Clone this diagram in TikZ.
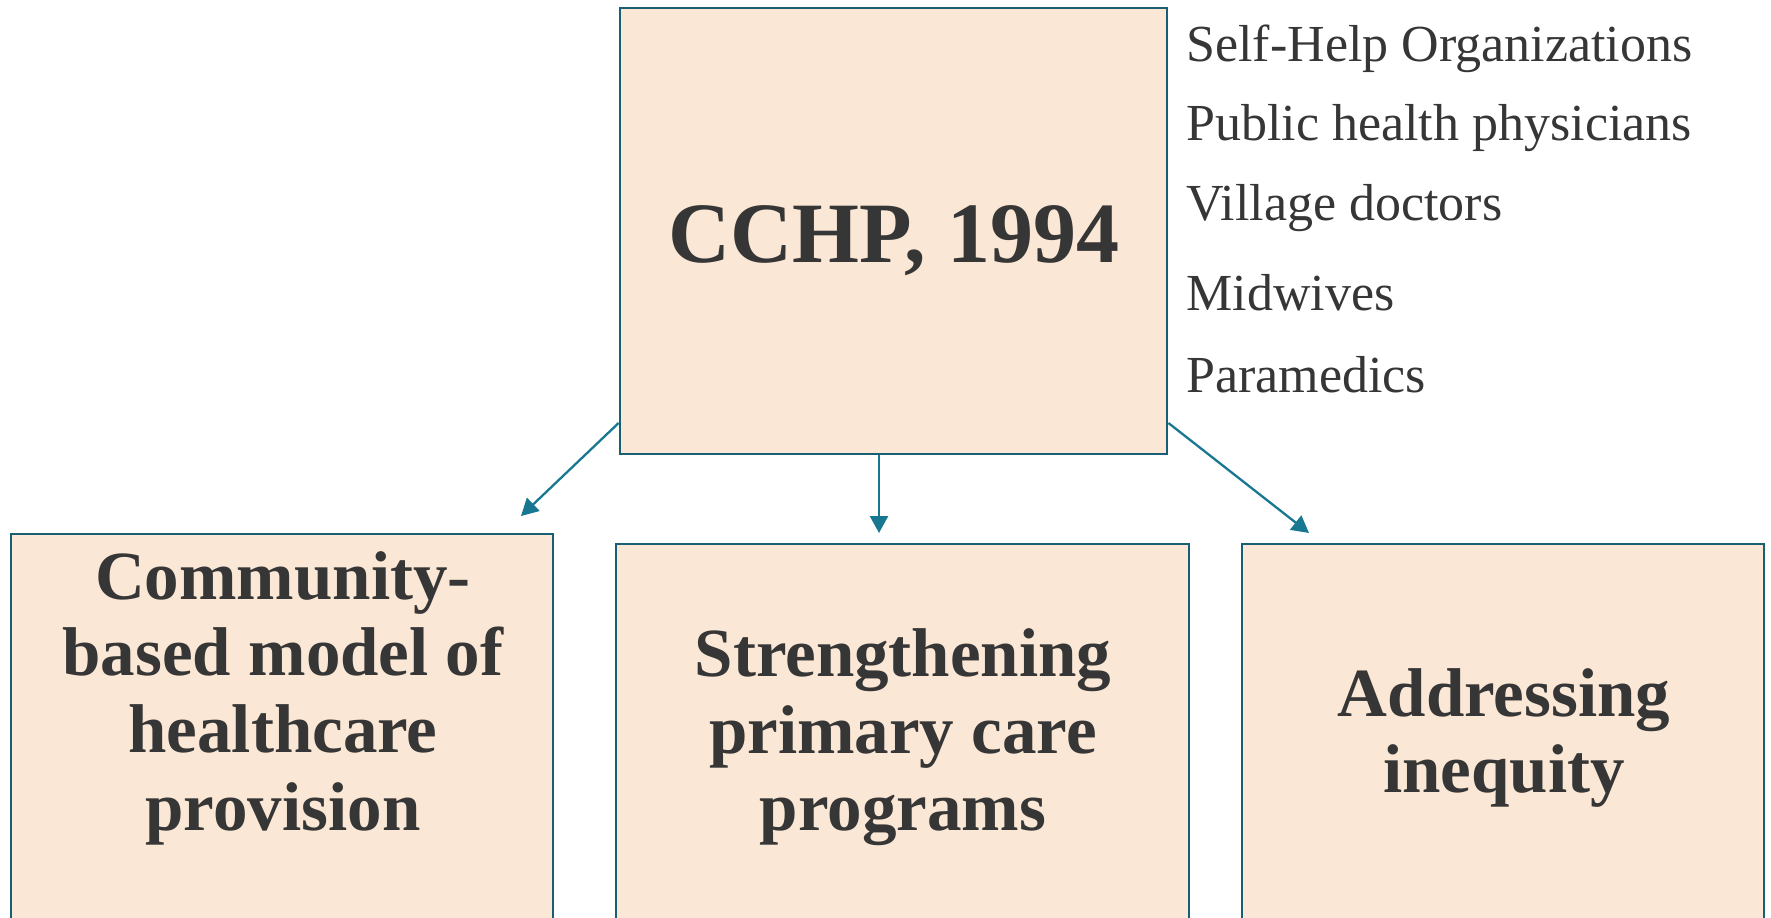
\documentclass[tikz,border=0pt]{standalone}
\usepackage{fontspec}
\setmainfont{Liberation Serif}
\usetikzlibrary{arrows.meta}

\definecolor{boxfill}{HTML}{FAE7D5}
\definecolor{boxline}{HTML}{185F74}
\definecolor{arrowcol}{HTML}{187892}
\definecolor{ink}{HTML}{363636}

\tikzset{
  panel/.style={draw=boxline, fill=boxfill, line width=1.4pt, inner sep=0pt},
  heading/.style={text=ink, font=\bfseries\fontsize{43}{50}\selectfont, anchor=base},
  boxtext/.style={text=ink, font=\bfseries\fontsize{34.5}{40}\selectfont, anchor=base},
  listitem/.style={text=ink, font=\fontsize{26}{30}\selectfont, anchor=base west, inner sep=0pt},
  link/.style={draw=arrowcol, line width=1.15pt, -{Triangle[length=8.5pt, width=9pt]}}
}

\begin{document}
\begin{tikzpicture}[x=0.5pt, y=-0.5pt]
  \useasboundingbox (0,0) rectangle (1771,917);

  % central programme box and its three outcome boxes (lower ones run off the page)
  \node[panel, minimum width=273.5pt, minimum height=223pt] (cchp) at (893.5,231) {};
  \node[panel, minimum width=271pt, minimum height=206pt] (community) at (282,740) {};
  \node[panel, minimum width=286.5pt, minimum height=201pt] (primary) at (902.5,745) {};
  \node[panel, minimum width=261pt, minimum height=201pt] (inequity) at (1503,745) {};

  % box titles
  \node[heading] (cchpt) at (894,262) {CCHP, 1994};

  \node[boxtext] (c1) at (283,599) {Community-};
  \node[boxtext] (c2) at (283,675) {based model of};
  \node[boxtext] (c3) at (283,752) {healthcare};
  \node[boxtext] (c4) at (283,830) {provision};

  \node[boxtext] (p1) at (903,676) {Strengthening};
  \node[boxtext] (p2) at (903,753) {primary care};
  \node[boxtext] (p3) at (903,830) {programs};

  \node[boxtext] (i1) at (1504,716) {Addressing};
  \node[boxtext] (i2) at (1504,792) {inequity};

  % providers listed beside the programme box
  \node[listitem] (l1) at (1186,61) {Self-Help Organizations};
  \node[listitem] (l2) at (1186,140) {Public health physicians};
  \node[listitem] (l3) at (1186,220) {Village doctors};
  \node[listitem] (l4) at (1186,310) {Midwives};
  \node[listitem] (l5) at (1186,392) {Paramedics};

  % arrow end points, short of the target boxes
  \coordinate (toleft) at (521,516);
  \coordinate (tomid) at (879,533);
  \coordinate (toright) at (1309,533);

  \draw[link] (cchp.west |- 0,423) -- (toleft);
  \draw[link] (cchp.south -| tomid) -- (tomid);
  \draw[link] (cchp.east |- 0,423) -- (toright);
\end{tikzpicture}
\end{document}
